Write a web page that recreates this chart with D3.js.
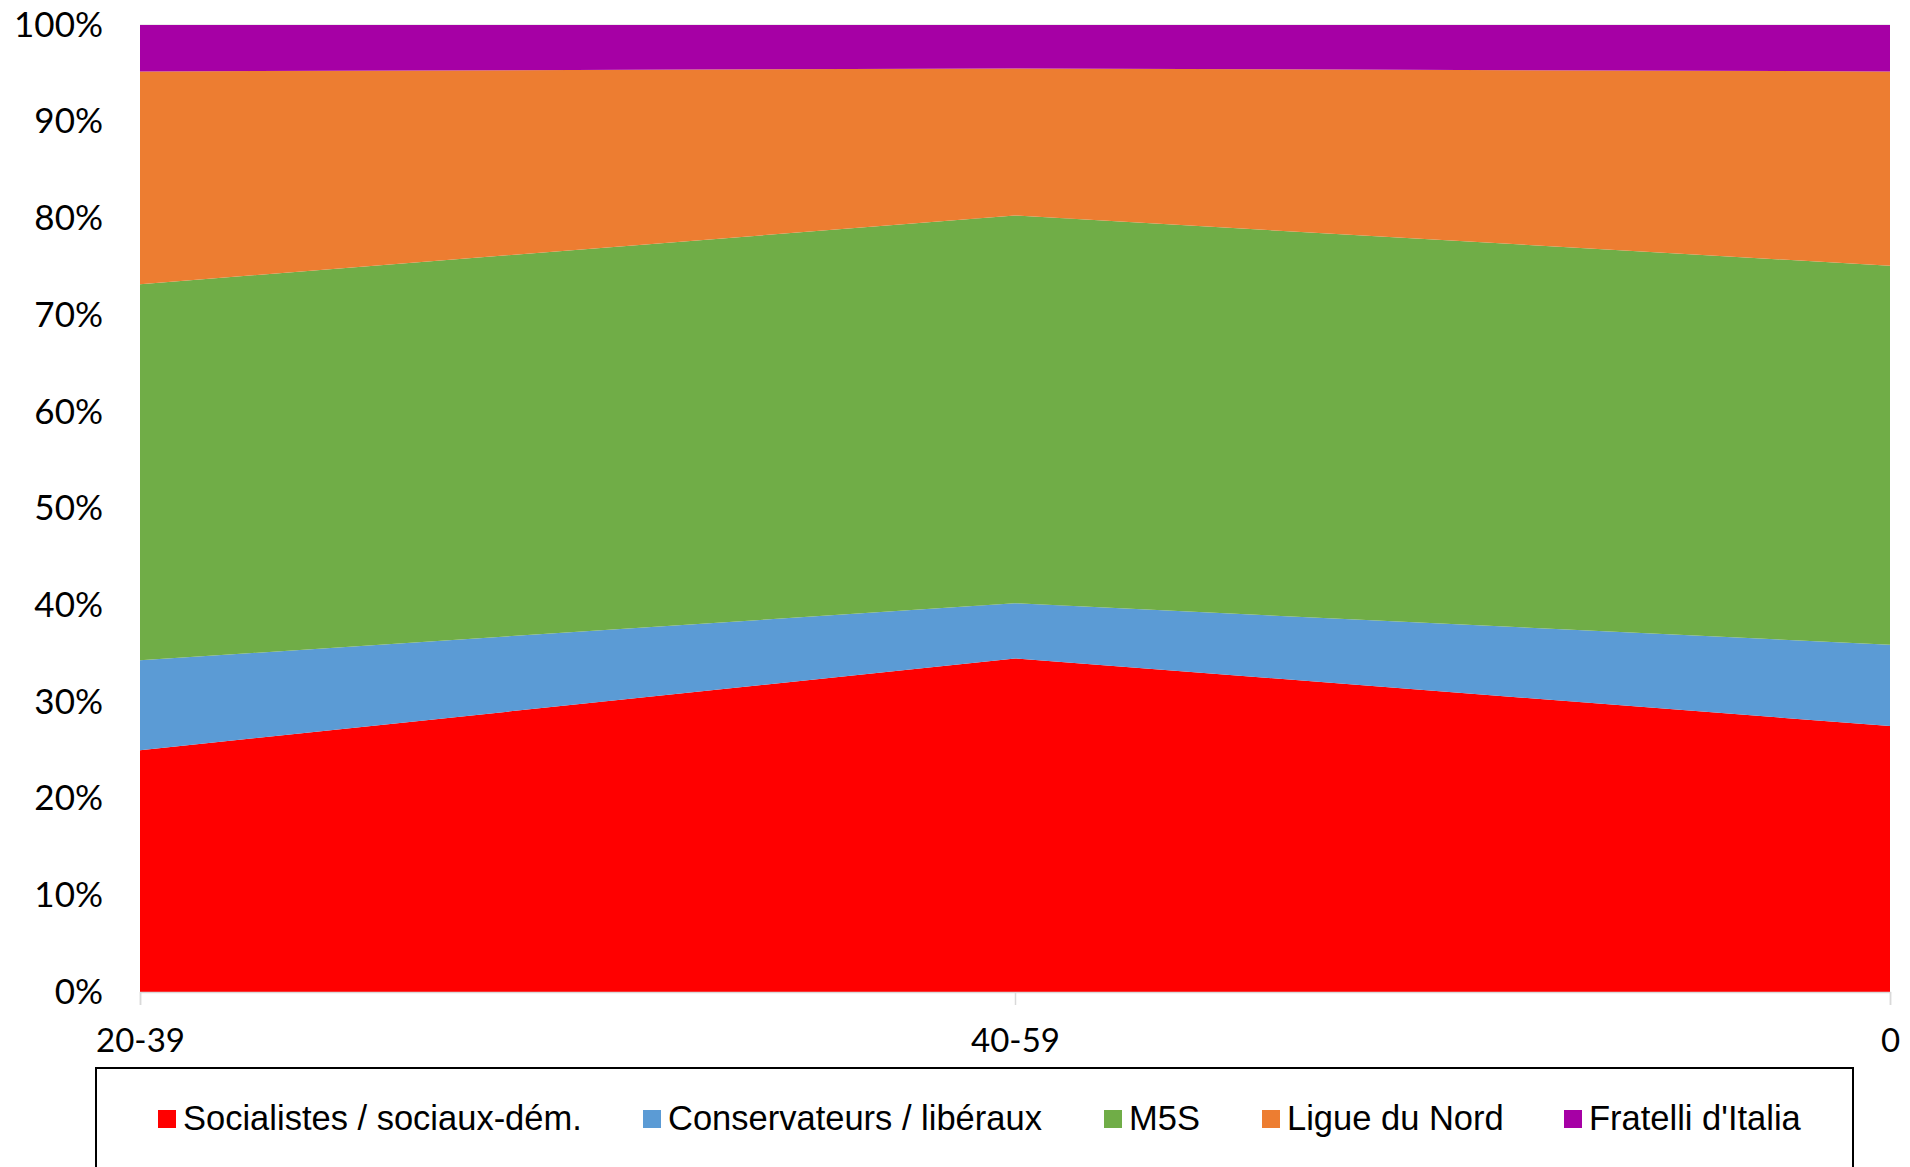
<!DOCTYPE html>
<html>
<head>
<meta charset="utf-8">
<script src="https://cdn.jsdelivr.net/npm/d3@7"></script>
<style>
  html, body { margin: 0; padding: 0; background: #fff; }
  svg { display: block; }
</style>
</head>
<body>
<svg id="chart" width="1910" height="1167"></svg>
<script>
const categories = ["20-39", "40-59", "0"];
const seriesNames = ["Socialistes / sociaux-dém.", "Conservateurs / libéraux", "M5S", "Ligue du Nord", "Fratelli d'Italia"];
const socialistes = [25.0, 34.5, 27.5];
const conservateurs = [9.3, 5.7, 8.4];
const m5s = [38.9, 40.1, 39.2];
const ligue = [22.0, 15.2, 20.1];
const fratelli = [4.8, 4.5, 4.8];
const colors = ["#FF0000", "#5B9BD5", "#70AD47", "#ED7D31", "#A600A5"];
const yTicks = [0, 10, 20, 30, 40, 50, 60, 70, 80, 90, 100];

(function () {
const seriesValues = [socialistes, conservateurs, m5s, ligue, fratelli];
const rows = categories.map((c, i) => {
  const r = { cat: c };
  seriesNames.forEach((n, k) => { r[n] = seriesValues[k][i]; });
  return r;
});

const svg = d3.select("#chart");
const mLeft = 140, mRight = 1890, mTop = 25, mBottom = 992;

const x = d3.scalePoint().domain(categories).range([mLeft, mRight]).padding(0);
const y = d3.scaleLinear().domain([0, 100]).range([mBottom, mTop]);

const stack = d3.stack().keys(seriesNames).offset(d3.stackOffsetExpand);
const stacked = stack(rows);

// gridlines
svg.append("g").selectAll("line").data(yTicks).join("line")
  .attr("x1", mLeft).attr("x2", mRight)
  .attr("y1", d => y(d)).attr("y2", d => y(d))
  .attr("stroke", "#d9d9d9").attr("stroke-width", 1);

const area = d3.area()
  .x(d => x(d.data.cat))
  .y0(d => y(d[0] * 100))
  .y1(d => y(d[1] * 100));

svg.append("g").selectAll("path").data(stacked).join("path")
  .attr("d", area)
  .attr("fill", (d, i) => colors[i]);

// y axis
const yAxis = d3.axisLeft(y).tickValues(yTicks).tickFormat(d => d + "%").tickSize(0).tickPadding(37);
const gy = svg.append("g").attr("transform", `translate(${mLeft},0)`).call(yAxis);
gy.select(".domain").remove();
gy.selectAll("text").attr("font-family", "Lato, Carlito, sans-serif").attr("font-size", 35).attr("fill", "#000");

// x axis
const xAxis = d3.axisBottom(x).tickSize(13).tickPadding(24);
const gx = svg.append("g").attr("transform", `translate(0,${mBottom})`).call(xAxis);
gx.select(".domain").attr("stroke", "#d9d9d9").attr("stroke-width", 1.5);
gx.selectAll(".tick line").attr("stroke", "#d9d9d9").attr("stroke-width", 1.5);
gx.selectAll("text").attr("font-family", "Lato, Carlito, sans-serif").attr("font-size", 33).attr("fill", "#000");

// legend
svg.append("rect")
  .attr("x", 96).attr("y", 1068).attr("width", 1757).attr("height", 130)
  .attr("fill", "none").attr("stroke", "#000").attr("stroke-width", 2);

const legendX = [158, 643, 1104, 1262, 1564];
const lg = svg.append("g").selectAll("g").data(seriesNames).join("g")
  .attr("transform", (d, i) => `translate(${legendX[i]},1110)`);
lg.append("rect").attr("width", 18).attr("height", 18).attr("fill", (d, i) => colors[i]);
lg.append("text").attr("x", 25).attr("y", 20)
  .attr("font-family", "'Liberation Sans', Arial, sans-serif").attr("font-size", 34.5)
  .attr("fill", "#000").text(d => d);
})();
</script>
</body>
</html>
